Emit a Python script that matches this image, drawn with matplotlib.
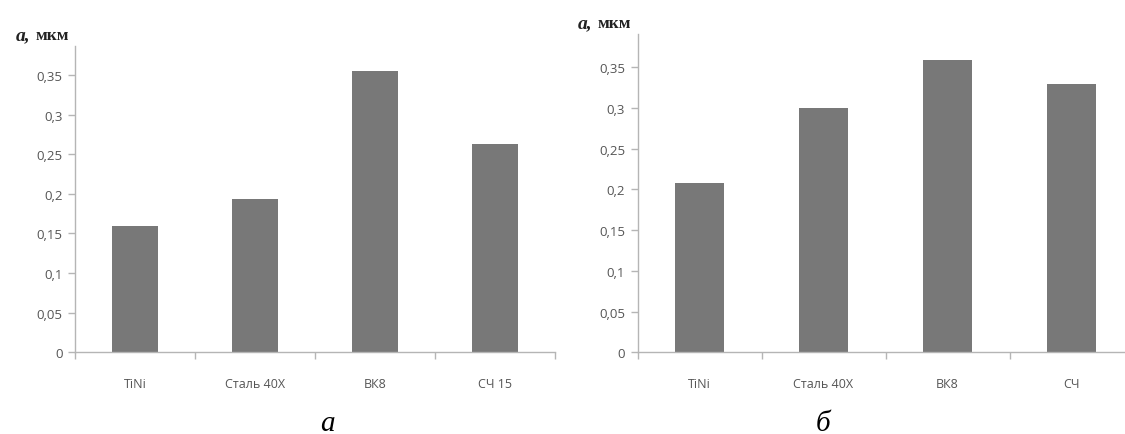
import matplotlib
matplotlib.use("Agg")
import matplotlib.pyplot as plt
from matplotlib.ticker import FuncFormatter, FixedLocator

categories_a = ["TiNi", "Сталь 40Х", "ВК8", "СЧ 15"]
values_a = [0.160, 0.193, 0.355, 0.263]
categories_b = ["TiNi", "Сталь 40Х", "ВК8", "СЧ"]
values_b = [0.208, 0.300, 0.359, 0.330]
yticks = [0, 0.05, 0.1, 0.15, 0.2, 0.25, 0.3, 0.35]
subtitles = ["а", "б"]
ylabel_var = "а,"
ylabel_unit = "мкм"

BAR = "#787878"
AXC = "#b5b5b5"
TXT = "#555555"
tickfont = ["Open Sans", "DejaVu Sans"]
serif = ["Liberation Serif", "DejaVu Serif"]

fig = plt.figure(figsize=(11.25, 4.35), dpi=100)
W, H = 1125.0, 435.0

def fmt(v, pos):
    s = ("%g" % round(v, 2)).replace(".", ",")
    return s

def make(ax, cats, vals, ytop):
    x = list(range(len(cats)))
    ax.bar(x, vals, width=0.39, color=BAR, zorder=2)
    ax.set_xlim(-0.5, len(cats) - 0.5)
    ax.set_ylim(0, ytop)
    for s in ["top", "right"]:
        ax.spines[s].set_visible(False)
    for s in ["left", "bottom"]:
        ax.spines[s].set_color(AXC)
        ax.spines[s].set_linewidth(1.0)
    ax.yaxis.set_major_locator(FixedLocator(yticks))
    ax.yaxis.set_major_formatter(FuncFormatter(fmt))
    ax.tick_params(axis="y", length=5, width=1, color=AXC, direction="out",
                   labelsize=9.5, labelcolor=TXT, pad=4)
    ax.set_xticks(x)
    ax.set_xticklabels(cats)
    ax.tick_params(axis="x", which="major", length=0, labelsize=9, labelcolor=TXT, pad=18)
    ax.set_xticks([i + 0.5 for i in range(-1, len(cats))], minor=True)
    ax.tick_params(axis="x", which="minor", length=5, width=1, color=AXC, direction="out")
    for lab in ax.get_xticklabels() + ax.get_yticklabels():
        lab.set_family(tickfont)
    ax.set_facecolor("white")

ax1 = fig.add_axes([75 / W, 1 - 353.3 / H, 480 / W, (353.3 - 46.7) / H])
make(ax1, categories_a, values_a, 0.387)
ax2 = fig.add_axes([637.5 / W, 1 - 353.3 / H, 496 / W, (353.3 - 35) / H])
make(ax2, categories_b, values_b, 0.391)

# y labels
for (x0, y0) in [(16, 36), (578, 24)]:
    fig.text(x0 / W, 1 - y0 / H, ylabel_var, family=serif, style="italic",
             weight="bold", fontsize=14, va="center", ha="left", color="#222222")
    fig.text((x0 + 20) / W, 1 - y0 / H, ylabel_unit, family=serif,
             weight="bold", fontsize=12.5, va="center", ha="left", color="#222222")

# subtitles
fig.text(327 / W, 1 - 431 / H, subtitles[0], family=serif, style="italic",
         fontsize=21, ha="center", va="baseline", color="black")
fig.text(823 / W, 1 - 431 / H, subtitles[1], family=serif, style="italic",
         fontsize=21, ha="center", va="baseline", color="black")

fig.savefig("out.png", dpi=100, facecolor="white")
